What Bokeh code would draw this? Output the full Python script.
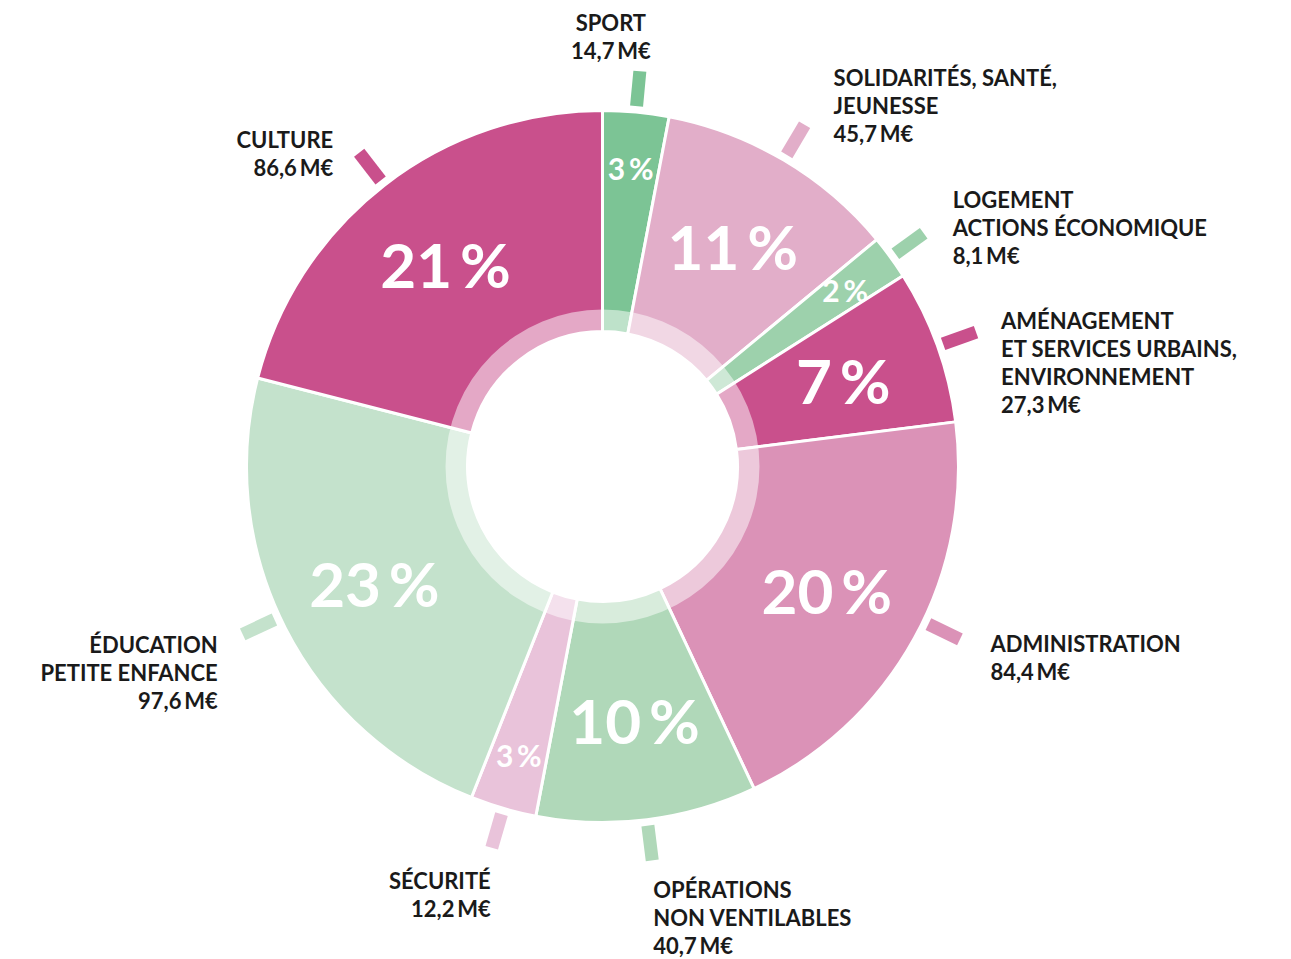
import math
from bokeh.plotting import figure
from bokeh.models import Range1d, ColumnDataSource
from bokeh.core.properties import value
from bokeh.embed import file_html
from bokeh.resources import INLINE

# ---------------- data ----------------
categories = [
    "SPORT",
    "SOLIDARITÉS, SANTÉ,\nJEUNESSE",
    "LOGEMENT\nACTIONS ÉCONOMIQUE",
    "AMÉNAGEMENT\nET SERVICES URBAINS,\nENVIRONNEMENT",
    "ADMINISTRATION",
    "OPÉRATIONS\nNON VENTILABLES",
    "SÉCURITÉ",
    "ÉDUCATION\nPETITE ENFANCE",
    "CULTURE",
]
amounts = [14.7, 45.7, 8.1, 27.3, 84.4, 40.7, 12.2, 97.6, 86.6]
percents = [3, 11, 2, 7, 20, 10, 3, 23, 21]

# ---------------- styles / layout ----------------
colors = ["#7cc495", "#e2aec9", "#9dd1ac", "#c9508c", "#db92b7",
          "#b0d8b9", "#e9c3da", "#c4e2cc", "#c9508c"]
label_align = ["center", "left", "left", "left", "left", "left", "right", "right", "right"]
# offset of the first label line from the outer end of each tick (pixels, y down)
label_offset = [(-29, -49), (29, -47), (29, -34), (25, -12), (40, -14),
                (1, 29), (-1, 33), (-31, -2), (-26, -13)]
# small angular nudges of the ticks (degrees) to follow the original placement
tick_nudge = [0, 0, 0, 0, -3, 0, 0, 2, 0]

W, H = 1291, 959
CX, CY_IMG = 602, 466
CY = H - CY_IMG
R_OUT, R_IN, R_BAND = 356, 135, 157
TICK_R0, TICK_R1 = 362, 397
LINE_H = 28
FONT = "Lato"

p = figure(width=W, height=H, x_range=Range1d(0, W), y_range=Range1d(0, H),
           x_axis_type=None, y_axis_type=None, toolbar_location=None,
           output_backend="svg", min_border=0, outline_line_color=None)
p.background_fill_color = "white"
p.border_fill_color = "white"

total = sum(percents)
starts, ends, mids = [], [], []
acc = 0.0
for v in percents:
    a0 = acc / total * 360.0
    acc += v
    a1 = acc / total * 360.0
    starts.append(a0)
    ends.append(a1)
    mids.append((a0 + a1) / 2)

src = ColumnDataSource(dict(
    start=[math.radians(90 - a) for a in starts],
    end=[math.radians(90 - a) for a in ends],
    color=colors,
))
p.annular_wedge(x=CX, y=CY, inner_radius=R_IN, outer_radius=R_OUT,
                start_angle="start", end_angle="end", direction="clock",
                fill_color="color", line_color="white", line_width=3, source=src)

# lighter inner band
p.annulus(x=CX, y=CY, inner_radius=R_IN, outer_radius=R_BAND,
          fill_color="white", fill_alpha=0.5, line_color=None)

# ticks
tx0, ty0, tx1, ty1 = [], [], [], []
for m, n in zip(mids, tick_nudge):
    a = math.radians(m + n)
    s, c = math.sin(a), math.cos(a)
    tx0.append(CX + TICK_R0 * s); ty0.append(CY + TICK_R0 * c)
    tx1.append(CX + TICK_R1 * s); ty1.append(CY + TICK_R1 * c)
p.segment(x0=tx0, y0=ty0, x1=tx1, y1=ty1, line_color=colors,
          line_width=13, line_cap="butt")

# percentage labels inside slices
bx, by, bt, sx, sy, st = [], [], [], [], [], []
for m, v in zip(mids, percents):
    s, c = math.sin(math.radians(m)), math.cos(math.radians(m))
    txt = f"{v}\u2009%"
    if v <= 3:
        sx.append(CX + 300 * s); sy.append(CY + 300 * c); st.append(txt)
    else:
        bx.append(CX + 256 * s); by.append(CY + 256 * c); bt.append(txt)
p.text(x=bx, y=by, text=bt, text_font=value(FONT), text_font_style="bold",
       text_font_size="62px", text_color="white", text_align="center",
       text_baseline="middle")
p.text(x=sx, y=sy, text=st, text_font=value(FONT), text_font_style="bold",
       text_font_size="30px", text_color="white", text_align="center",
       text_baseline="middle")

# outside category labels
for i in range(len(categories)):
    lines = categories[i].split("\n") + [f"{amounts[i]:.1f}".replace(".", ",") + "\u2009M€"]
    ox, oy = label_offset[i]
    m = math.radians(mids[i])
    ex = CX + TICK_R1 * math.sin(m)
    ey = CY + TICK_R1 * math.cos(m)
    x0 = ex + ox
    y0 = ey - oy
    xs = [x0] * len(lines)
    ys = [y0 - k * LINE_H for k in range(len(lines))]
    p.text(x=xs, y=ys, text=lines, text_font=value(FONT), text_font_style="bold",
           text_font_size="22px", text_color="#1a1a1a", text_align=label_align[i],
           text_baseline="middle")

open("out.html", "w").write(file_html(p, INLINE))
